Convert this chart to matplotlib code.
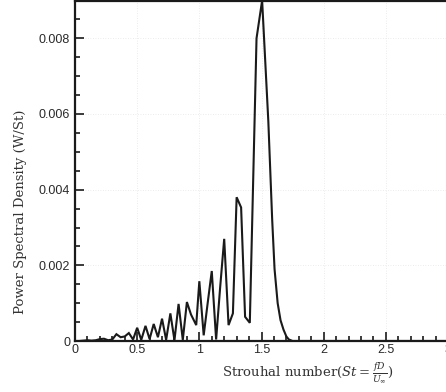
import matplotlib
matplotlib.use("Agg")
import matplotlib.pyplot as plt
from matplotlib.ticker import MultipleLocator, FixedLocator

plt.rcParams["mathtext.fontset"] = "dejavuserif"

# Strouhal number samples and power spectral density values
strouhal = [0.0, 0.033, 0.067, 0.1, 0.133, 0.167, 0.2, 0.233, 0.267, 0.3,
            0.333, 0.367, 0.4, 0.433, 0.467, 0.5, 0.533, 0.567, 0.6, 0.633,
            0.667, 0.7, 0.733, 0.767, 0.8, 0.833, 0.867, 0.9, 0.933, 0.975,
            1.0, 1.035, 1.067, 1.1, 1.135, 1.167, 1.2, 1.235, 1.27, 1.3,
            1.336, 1.368, 1.406, 1.46, 1.505, 1.555, 1.586, 1.605, 1.63, 1.653,
            1.677, 1.70, 1.72, 1.75, 1.9, 2.2, 2.5, 2.8, 3.0]
psd = [0.0, 0.0, 0.00001, 0.00002, 0.00001, 0.00002, 0.00005, 0.00006, 0.00002, 0.00004,
       0.00018, 0.0001, 0.00012, 0.00021, 0.00004, 0.00035, 0.00003, 0.0004, 0.00005, 0.00045,
       0.0001, 0.00059, 0.00003, 0.00073, 0.00002, 0.00098, 0.00003, 0.00103, 0.0007, 0.00042,
       0.00158, 0.00015, 0.001, 0.00185, 0.00004, 0.0014, 0.0027, 0.00042, 0.00073, 0.0038,
       0.00353, 0.00064, 0.00048, 0.0080, 0.0090, 0.0058, 0.0032, 0.0019, 0.0010, 0.00055,
       0.0003, 0.00012, 0.00004, 0.0, 0.0, 0.0, 0.0, 0.0, 0.0]

x_ticks = [0, 0.5, 1, 1.5, 2, 2.5, 3]
x_tick_labels = ["0", "0.5", "1", "1.5", "2", "2.5", "3"]
y_ticks = [0, 0.002, 0.004, 0.006, 0.008]
y_tick_labels = ["0", "0.002", "0.004", "0.006", "0.008"]

fig = plt.figure(figsize=(4.46, 3.92), dpi=100)
ax = fig.add_axes([75 / 446, 51 / 392, 373 / 446, 340.5 / 392])

ax.plot(strouhal, psd, color="#1a1a1a", lw=1.5, solid_joinstyle="miter")

ax.set_xlim(0, 3)
ax.set_ylim(0, 0.009)

ax.xaxis.set_major_locator(FixedLocator(x_ticks))
ax.set_xticklabels(x_tick_labels)
ax.yaxis.set_major_locator(FixedLocator(y_ticks))
ax.set_yticklabels(y_tick_labels)
ax.xaxis.set_minor_locator(MultipleLocator(0.1))
ax.yaxis.set_minor_locator(MultipleLocator(0.0005))

ax.grid(True, which="major", color="#e6e6e6", lw=0.6, ls=(0, (1, 2)))
ax.set_axisbelow(True)

ax.tick_params(which="both", direction="in", color="#1a1a1a", width=1.2,
               labelsize=9, labelcolor="#2a2a2a")
ax.tick_params(which="major", length=6.5)
ax.tick_params(which="minor", length=3.5)
ax.tick_params(axis="x", pad=2.5)
ax.tick_params(axis="y", pad=3.5)
for lab in ax.get_xticklabels() + ax.get_yticklabels():
    lab.set_family("Liberation Sans")

for side in ["left", "bottom", "top", "right"]:
    ax.spines[side].set_linewidth(1.6)
    ax.spines[side].set_color("#1a1a1a")

ax.set_ylabel("Power Spectral Density (W/St)", family="DejaVu Serif",
              fontsize=9.5, color="#333333")
ax.yaxis.set_label_coords(-0.129, 0.378)
ax.set_xlabel(r"Strouhal number$(St=\frac{fD}{U_\infty})$", family="DejaVu Serif",
              fontsize=9.5, color="#333333")
ax.xaxis.set_label_coords(0.625, -0.055)

fig.savefig("out.png", dpi=100)
